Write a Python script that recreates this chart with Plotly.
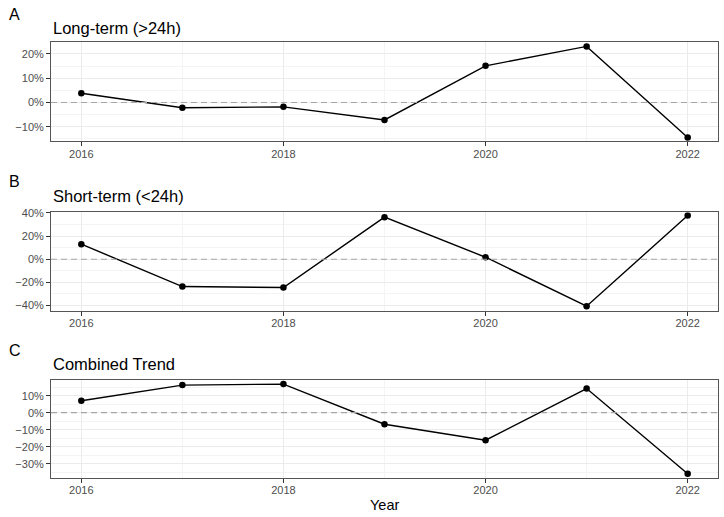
import plotly.graph_objects as go

years = [2016, 2017, 2018, 2019, 2020, 2021, 2022]
long_term = [3.8, -2.2, -1.8, -7.2, 15.1, 23.1, -14.4]
short_term = [13.0, -23.7, -24.5, 36.4, 1.7, -40.7, 37.8]
combined = [7.0, 16.2, 16.8, -6.8, -16.2, 14.2, -35.9]

panel_titles = ["Long-term (>24h)", "Short-term (<24h)", "Combined Trend"]
panel_tags = ["A", "B", "C"]
x_tick_labels = ["2016", "2018", "2020", "2022"]
x_title = "Year"

series = [long_term, short_term, combined]

W, H = 724, 517
# pixel geometry (top, bottom) of each panel
panels_px = [(42.3, 141.3), (212.3, 310.7), (380.0, 478.0)]
y_ranges = [(-16.0, 24.8), (-44.6, 40.6), (-38.4, 19.2)]
y_dticks = [10, 20, 10]
y_minor = [5, 10, 5]
x_left, x_right = 51, 718
tag_px = [14, 181.5, 350]
title_px = [27.5, 195.5, 363.5]
xtitle_px = 505

FONT = "Liberation Sans, Arial, sans-serif"
fig = go.Figure()
layout = dict(
    width=W, height=H,
    margin=dict(l=0, r=0, t=0, b=0, autoexpand=False),
    paper_bgcolor="white", plot_bgcolor="white",
    showlegend=False,
    font=dict(family=FONT, color="black"),
)
annotations = []
shapes = []
for i, vals in enumerate(series):
    n = i + 1
    xa = "x" if n == 1 else f"x{n}"
    ya = "y" if n == 1 else f"y{n}"
    top, bot = panels_px[i]
    xkey = "xaxis" if n == 1 else f"xaxis{n}"
    ykey = "yaxis" if n == 1 else f"yaxis{n}"
    layout[xkey] = dict(
        domain=[x_left / W, x_right / W], anchor=ya,
        range=[2015.7, 2022.3], automargin=False,
        tickmode="array", tickvals=[int(t) for t in x_tick_labels], ticktext=x_tick_labels,
        ticks="outside", ticklen=4, tickcolor="#333333", tickwidth=1,
        ticklabelstandoff=-2,
        tickfont=dict(size=11, color="#4D4D4D", family=FONT),
        showgrid=True, gridcolor="#EBEBEB", gridwidth=1,
        minor=dict(tickmode="array", tickvals=[2017, 2019, 2021], showgrid=True,
                   gridcolor="#F4F4F4", gridwidth=0.6),
        showline=True, linecolor="#555555", linewidth=1, mirror=True,
        zeroline=False,
    )
    layout[ykey] = dict(
        domain=[1 - bot / H, 1 - top / H], anchor=xa,
        range=list(y_ranges[i]), automargin=False,
        dtick=y_dticks[i], tick0=0, ticksuffix="%",
        ticks="outside", ticklen=4, tickcolor="#333333", tickwidth=1,
        tickfont=dict(size=11, color="#4D4D4D", family=FONT),
        showgrid=True, gridcolor="#EBEBEB", gridwidth=1,
        minor=dict(dtick=y_minor[i], tick0=0, showgrid=True,
                   gridcolor="#F4F4F4", gridwidth=0.6),
        showline=True, linecolor="#555555", linewidth=1, mirror=True,
        zeroline=False,
    )
    shapes.append(dict(
        type="line", xref="paper", yref=ya, x0=x_left / W, x1=x_right / W, y0=0, y1=0,
        line=dict(color="#A6A6A6", width=1.1, dash="6px,4px"), layer="above",
    ))
    annotations.append(dict(
        text=panel_tags[i], xref="paper", yref="paper", x=7 / W, y=1 - tag_px[i] / H,
        xanchor="left", yanchor="middle", showarrow=False,
        font=dict(size=16, color="black", family=FONT),
    ))
    annotations.append(dict(
        text=panel_titles[i], xref="paper", yref="paper", x=x_left / W, y=1 - title_px[i] / H,
        xanchor="left", yanchor="middle", showarrow=False,
        font=dict(size=16.5, color="black", family=FONT),
    ))

annotations.append(dict(
    text=x_title, xref="paper", yref="paper", x=(x_left + x_right) / 2 / W, y=1 - xtitle_px / H,
    xanchor="center", yanchor="middle", showarrow=False,
    font=dict(size=14.5, color="black", family=FONT),
))

for i, vals in enumerate(series):
    n = i + 1
    xa = "x" if n == 1 else f"x{n}"
    ya = "y" if n == 1 else f"y{n}"
    fig.add_trace(go.Scatter(
        x=years, y=vals, xaxis=xa, yaxis=ya, mode="lines+markers",
        line=dict(color="black", width=1.4),
        marker=dict(color="black", size=6.5),
        hoverinfo="skip",
    ))

layout["annotations"] = annotations
layout["shapes"] = shapes
fig.update_layout(**layout)
fig.write_html("out.html")
